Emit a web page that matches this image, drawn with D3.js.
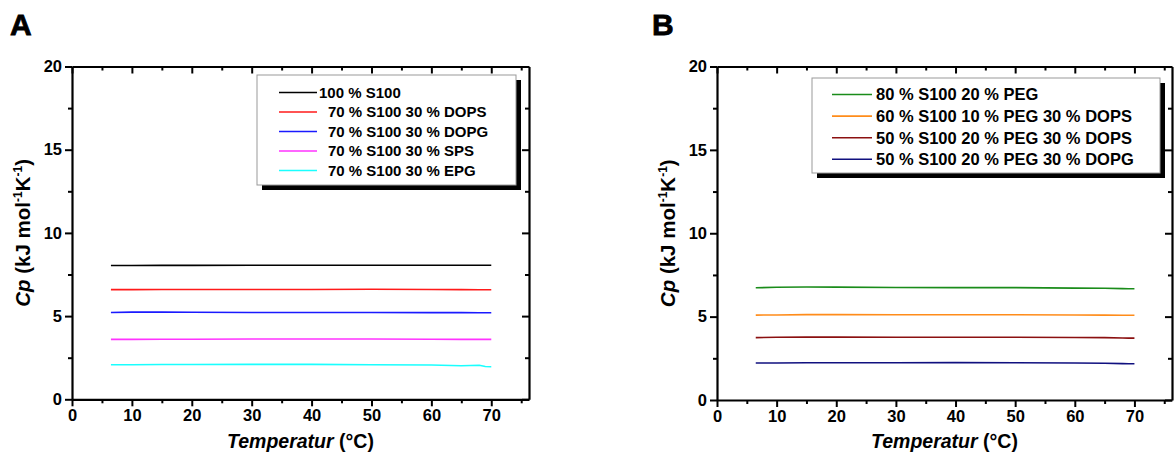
<!DOCTYPE html>
<html><head><meta charset="utf-8">
<script src="https://cdn.jsdelivr.net/npm/d3@7"></script>
<style>
html,body{margin:0;padding:0;background:#fff;}
svg{display:block;font-family:"Liberation Sans",Arial,sans-serif;}
</style></head>
<body>
<svg id="c" width="1174" height="452"></svg>
<script>
// ---- data ----
const temps = [6.5, 10, 15, 20, 30, 40, 50, 60, 65, 68, 69, 70];

const namesA = ["100 % S100", "70 % S100 30 % DOPS", "70 % S100 30 % DOPG", "70 % S100 30 % SPS", "70 % S100 30 % EPG"];
const colorsA = ["#000000", "#ff1a1a", "#1a1aff", "#ff33ff", "#1affff"];
const cpS100     = [8.04, 8.04, 8.05, 8.05, 8.06, 8.06, 8.06, 8.06, 8.06, 8.06, 8.06, 8.06];
const cpDOPS     = [6.59, 6.59, 6.60, 6.60, 6.60, 6.60, 6.61, 6.60, 6.59, 6.58, 6.58, 6.58];
const cpDOPG     = [5.22, 5.24, 5.24, 5.23, 5.22, 5.22, 5.22, 5.21, 5.21, 5.20, 5.20, 5.20];
const cpSPS      = [3.60, 3.60, 3.61, 3.61, 3.62, 3.62, 3.62, 3.61, 3.60, 3.60, 3.60, 3.60];
const cpEPG      = [2.08, 2.08, 2.09, 2.09, 2.10, 2.10, 2.08, 2.06, 2.02, 2.05, 1.97, 1.96];

const namesB = ["80 % S100 20 % PEG", "60 % S100 10 % PEG 30 % DOPS", "50 % S100 20 % PEG 30 % DOPS", "50 % S100 20 % PEG 30 % DOPG"];
const colorsB = ["#1a8c1a", "#ff8c1a", "#8b1010", "#10107f"];
const cpPEG       = [6.73, 6.76, 6.78, 6.77, 6.75, 6.74, 6.74, 6.71, 6.70, 6.68, 6.67, 6.67];
const cpPEG10DOPS = [5.09, 5.10, 5.12, 5.12, 5.11, 5.11, 5.11, 5.10, 5.09, 5.08, 5.08, 5.08];
const cpPEG20DOPS = [3.74, 3.76, 3.77, 3.77, 3.76, 3.76, 3.76, 3.75, 3.74, 3.72, 3.71, 3.71];
const cpPEG20DOPG = [2.22, 2.22, 2.23, 2.23, 2.23, 2.24, 2.23, 2.22, 2.20, 2.18, 2.17, 2.17];

const xMajor = [0, 10, 20, 30, 40, 50, 60, 70];
const xMinor = [5, 15, 25, 35, 45, 55, 65, 75];
const yMajor = [0, 5, 10, 15, 20];
const yMinor = [2.5, 7.5, 12.5, 17.5];
const xDomain = [0, 76.3];
const yDomain = [0, 20];

const svg = d3.select("#c");

function panel(o) {
  const g = svg.append("g");
  const x = d3.scaleLinear().domain(xDomain).range([o.x0, o.x1]);
  const y = d3.scaleLinear().domain(yDomain).range([o.y0, o.y1]);

  // panel letter
  g.append("text").attr("x", o.letterX).attr("y", 35).attr("font-size", 30)
    .attr("font-weight", 900).attr("stroke", "#000").attr("stroke-width", 0.8).text(o.letter);

  // series
  const line = d3.line().x((d, i) => x(temps[i])).y(d => y(d));
  o.series.forEach((s, i) => {
    g.append("path").datum(s).attr("d", line).attr("fill", "none")
      .attr("stroke", o.colors[i]).attr("stroke-width", 1.6);
  });

  const styleAxis = sel => {
    sel.select(".domain").attr("stroke-width", 2.2).attr("stroke", "#000");
    sel.selectAll(".tick line").attr("stroke-width", 2).attr("stroke", "#000");
    sel.selectAll(".tick text").attr("font-size", 16.5).attr("font-weight", "bold")
      .attr("font-family", "'Liberation Sans',Arial,sans-serif").attr("fill", "#000");
  };

  // bottom
  g.append("g").attr("transform", `translate(0,${o.y0})`)
    .call(d3.axisBottom(x).tickValues(xMajor).tickSize(7).tickSizeOuter(0).tickPadding(3).tickFormat(d3.format("d")))
    .call(styleAxis);
  g.append("g").attr("transform", `translate(0,${o.y0})`)
    .call(d3.axisBottom(x).tickValues(xMinor).tickSize(4).tickFormat(""))
    .call(styleAxis).select(".domain").remove();
  // top (inward)
  g.append("g").attr("transform", `translate(0,${o.y1})`)
    .call(d3.axisBottom(x).tickValues(xMajor).tickSize(7).tickSizeOuter(0).tickFormat(""))
    .call(styleAxis);
  g.append("g").attr("transform", `translate(0,${o.y1})`)
    .call(d3.axisBottom(x).tickValues(xMinor).tickSize(4).tickFormat(""))
    .call(styleAxis).select(".domain").remove();
  // left
  g.append("g").attr("transform", `translate(${o.x0},0)`)
    .call(d3.axisLeft(y).tickValues(yMajor).tickSize(7).tickSizeOuter(0).tickPadding(3).tickFormat(d3.format("d")))
    .call(styleAxis);
  g.append("g").attr("transform", `translate(${o.x0},0)`)
    .call(d3.axisLeft(y).tickValues(yMinor).tickSize(4).tickFormat(""))
    .call(styleAxis).select(".domain").remove();
  // right (inward)
  g.append("g").attr("transform", `translate(${o.x1},0)`)
    .call(d3.axisLeft(y).tickValues(yMajor).tickSize(7).tickSizeOuter(0).tickFormat(""))
    .call(styleAxis);
  g.append("g").attr("transform", `translate(${o.x1},0)`)
    .call(d3.axisLeft(y).tickValues(yMinor).tickSize(4).tickFormat(""))
    .call(styleAxis).select(".domain").remove();

  // x title
  const xt = g.append("text").attr("x", (o.x0 + o.x1) / 2).attr("y", 448)
    .attr("text-anchor", "middle").attr("font-size", 19.5).attr("font-weight", "bold");
  xt.append("tspan").attr("font-style", "italic").text("Temperatur");
  xt.append("tspan").text(" (°C)");

  // y title
  const yt = g.append("text")
    .attr("transform", `translate(${o.ytX},${(o.y0 + o.y1) / 2}) rotate(-90)`)
    .attr("text-anchor", "middle").attr("font-size", 20.5).attr("font-weight", "bold");
  yt.append("tspan").attr("font-style", "italic").text("Cp");
  yt.append("tspan").text(" (kJ mol");
  yt.append("tspan").attr("font-size", 12).attr("dy", -8).text("-1");
  yt.append("tspan").attr("dy", 8).text("K");
  yt.append("tspan").attr("font-size", 12).attr("dy", -8).text("-1");
  yt.append("tspan").attr("dy", 8).text(")");

  // legend
  const L = o.legend;
  const lg = g.append("g");
  lg.append("rect").attr("x", L.x + 5).attr("y", L.y + 5).attr("width", L.w).attr("height", L.h).attr("fill", "#000");
  lg.append("rect").attr("x", L.x).attr("y", L.y).attr("width", L.w).attr("height", L.h)
    .attr("fill", "#fff").attr("stroke", "#999").attr("stroke-width", 1);
  o.names.forEach((n, i) => {
    const cy = L.y + L.first + i * L.step;
    lg.append("line").attr("x1", L.lx1).attr("x2", L.lx2).attr("y1", cy).attr("y2", cy)
      .attr("stroke", o.colors[i]).attr("stroke-width", 1.6);
    lg.append("text").attr("x", (i === 0 && L.firstTx) ? L.firstTx : L.tx).attr("y", cy)
      .attr("dy", "0.36em").attr("font-size", L.fs).attr("font-weight", "bold").text(n);
  });
}

panel({
  letter: "A", letterX: 10,
  x0: 72, x1: 529, y0: 399.3, y1: 66.5, ytX: 30,
  series: [cpS100, cpDOPS, cpDOPG, cpSPS, cpEPG], colors: colorsA, names: namesA,
  legend: {x: 257, y: 75, w: 259, h: 110, first: 17.5, step: 19.5, lx1: 279, lx2: 317, tx: 328, firstTx: 319, fs: 15}
});
panel({
  letter: "B", letterX: 652,
  x0: 717, x1: 1172, y0: 400, y1: 66.5, ytX: 675,
  series: [cpPEG, cpPEG10DOPS, cpPEG20DOPS, cpPEG20DOPG], colors: colorsB, names: namesB,
  legend: {x: 812, y: 78, w: 348, h: 95, first: 16.5, step: 21.6, lx1: 832, lx2: 872, tx: 876, fs: 16.5}
});
</script>
</body></html>
